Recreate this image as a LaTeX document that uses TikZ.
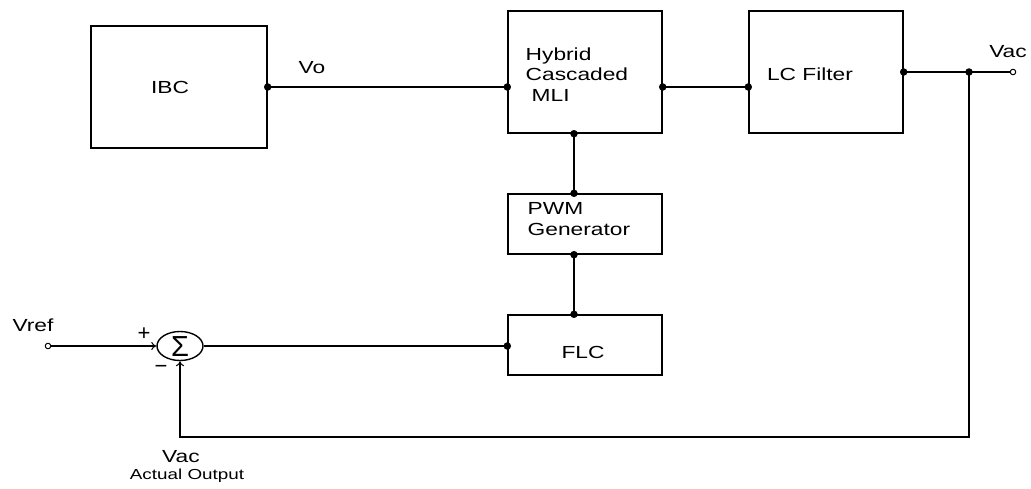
\documentclass[tikz,border=0pt]{standalone}
\usepackage{fontspec}
\setmainfont[FakeStretch=1.3]{Liberation Sans}
\newfontfamily\sigfont{Liberation Sans}
\usetikzlibrary{arrows.meta,shapes.geometric}
\begin{document}
\begin{tikzpicture}[x=1pt,y=-1pt,
  line width=1.4pt,
  blk/.style={draw,rectangle,inner sep=0pt},
  dot/.style={circle,fill,inner sep=0pt,minimum size=7.5pt},
  term/.style={circle,draw,line width=1pt,fill=white,inner sep=0pt,minimum size=5.5pt},
  lbl/.style={font=\fontsize{17.5}{20.5}\selectfont,inner sep=0pt},
  sgn/.style={font=\sigfont\fontsize{22}{22}\selectfont,inner sep=0pt},
  small/.style={font=\fontsize{14.5}{16}\selectfont,inner sep=0pt},
  arr/.style={-{To[length=5pt,width=8pt,line width=1pt]}}]
\useasboundingbox (0,0) rectangle (1031,489);
% blocks
\node[blk,minimum width=176pt,minimum height=122pt] (ibc) at (179,87) {};
\node[blk,minimum width=154pt,minimum height=122pt] (hyb) at (585,72) {};
\node[blk,minimum width=154pt,minimum height=122pt] (lc) at (826,72) {};
\node[blk,minimum width=154pt,minimum height=60pt] (pwm) at (585,224) {};
\node[blk,minimum width=154pt,minimum height=60pt] (flc) at (585,345) {};
\node[draw,ellipse,minimum width=46pt,minimum height=29pt,inner sep=0pt] (sum) at (180,346) {};
\node[font=\sigfont\fontsize{29}{29}\selectfont,inner sep=0pt] (tsig) at (180,347) {Σ};
% texts
\node[lbl] (tibc) at (170,87) {IBC};
\node[lbl,anchor=north west,align=left] (thyb) at (525,47) {Hybrid\\Cascaded\\\hspace*{6pt}MLI};
\node[lbl] (tlc) at (810,74) {LC Filter};
\node[lbl,anchor=north west,align=left] (tpwm) at (527,202) {PWM\\Generator};
\node[lbl] (tflc) at (583,352) {FLC};
\node[lbl] (tvo) at (312,68) {Vo};
\node[lbl] (tvac) at (1008,52) {Vac};
\node[lbl] (tvref) at (33,325) {Vref};
\node[lbl] (tvac2) at (181,457) {Vac};
\node[small] (tact) at (187,476) {Actual Output};
\node[sgn] (tplus) at (144,334) {+};
\node[sgn] (tminus) at (161,369) {−};
% coordinates
\coordinate (vx) at (574,0);
\coordinate (jx) at (969,0);
\coordinate (by) at (0,437);
\node[term] (vref) at (48,346) {};
\node[term] (vac) at (1013,72) {};
% connectors
\draw (ibc.east) -- (ibc.east -| hyb.west);
\draw (hyb.east |- ibc.east) -- (lc.west |- ibc.east);
\draw (hyb.south -| vx) -- (pwm.north -| vx);
\draw (pwm.south -| vx) -- (flc.north -| vx);
\draw (lc.east |- vac) -- (vac.west);
\draw[arr] (jx |- vac) -- (jx |- by) -- (sum |- by) -- (sum.south);
\draw[arr] (vref.east) -- (sum.west);
\draw (sum.east) -- (flc.west |- sum.east);
% dots
\node[dot] at (ibc.east) {};
\node[dot] at (hyb.west |- ibc.east) {};
\node[dot] at (hyb.east |- ibc.east) {};
\node[dot] at (lc.west |- ibc.east) {};
\node[dot] at (lc.east |- vac) {};
\node[dot] at (jx |- vac) {};
\node[dot] at (hyb.south -| vx) {};
\node[dot] at (pwm.north -| vx) {};
\node[dot] at (pwm.south -| vx) {};
\node[dot] at (flc.north -| vx) {};
\node[dot] at (flc.west |- sum.east) {};
\end{tikzpicture}
\end{document}
